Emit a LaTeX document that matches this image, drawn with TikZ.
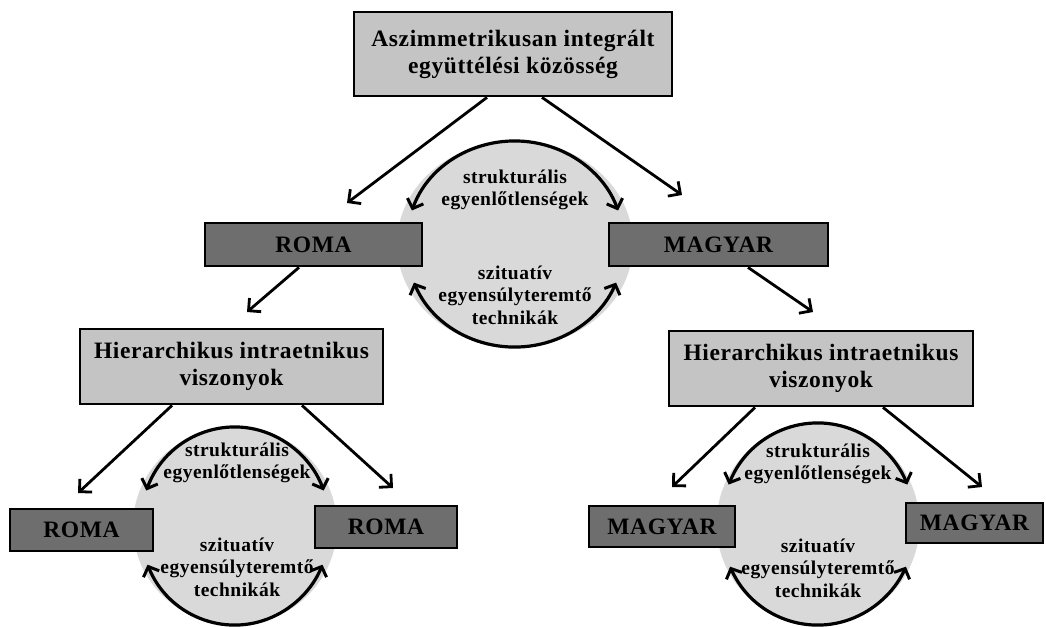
\documentclass[tikz,border=0pt]{standalone}
\usepackage{fontspec}
\setmainfont{Liberation Serif}
\usetikzlibrary{arrows.meta,shapes.geometric}
\definecolor{boxlight}{HTML}{C4C4C4}
\definecolor{boxdark}{HTML}{6E6E6E}
\definecolor{discgray}{HTML}{D9D9D9}
\newfontfamily\wideserif[LetterSpace=2.5]{Liberation Serif}
\begin{document}
\begin{tikzpicture}[x=1pt,y=-1pt,
  box/.style={draw=black, line width=2.8pt, inner sep=0pt, align=center,
    font=\wideserif\bfseries\fontsize{23.5}{27}\selectfont},
  lightbox/.style={box, fill=boxlight},
  darkbox/.style={box, fill=boxdark},
  disc/.style={ellipse, fill=discgray, inner sep=0pt},
  ctext/.style={align=center, inner sep=0pt, font=\wideserif\bfseries\fontsize{19.5}{22.5}\selectfont},
  arr/.style={line width=2.8pt, -{Straight Barb[length=9pt,width=18pt,line width=2.8pt]}},
  loopar/.style={line width=3.2pt, {Straight Barb[length=8pt,width=17pt,line width=3pt]}-{Straight Barb[length=8pt,width=17pt,line width=3pt]}}
]
\useasboundingbox (0,0) rectangle (1046,626);

% discs
\node[disc, minimum width=236, minimum height=206] (c1) at (515,244) {};
\node[disc, minimum width=204, minimum height=198] (c2) at (235,526) {};
\node[disc, minimum width=203, minimum height=202] (c3) at (818,524) {};

% boxes
\node[lightbox, minimum width=318, minimum height=84] (top) at (513,54)
  {Aszimmetrikusan integrált\\együttélési közösség};
\node[darkbox, minimum width=217, minimum height=43] (roma) at (313.5,244.5) {ROMA};
\node[darkbox, minimum width=219, minimum height=43] (magyar) at (718.5,244.5) {MAGYAR};
\node[lightbox, minimum width=303, minimum height=75] (hl) at (231.5,366.5)
  {Hierarchikus intraetnikus\\viszonyok};
\node[lightbox, minimum width=304, minimum height=75] (hr) at (821,368.5)
  {Hierarchikus intraetnikus\\viszonyok};
\node[darkbox, minimum width=143, minimum height=42] (rll) at (81.5,530) {ROMA};
\node[darkbox, minimum width=142, minimum height=42] (rlr) at (386,527) {ROMA};
\node[darkbox, minimum width=146, minimum height=41] (mrl) at (662,526.5) {MAGYAR};
\node[darkbox, minimum width=137, minimum height=40] (mrr) at (974.5,523) {MAGYAR};

% circle texts
\node[ctext] (t1a) at (515,190) {strukturális\\egyenlőtlenségek};
\node[ctext] (t1b) at (515,295) {szituatív\\egyensúlyteremtő\\technikák};
\node[ctext] (t2a) at (237,463) {strukturális\\egyenlőtlenségek};
\node[ctext] (t2b) at (237,567) {szituatív\\egyensúlyteremtő\\technikák};
\node[ctext] (t3a) at (818,464) {strukturális\\egyenlőtlenségek};
\node[ctext] (t3b) at (818,568) {szituatív\\egyensúlyteremtő\\technikák};

% arrow end coordinates
\coordinate (e1) at (347,203);
\coordinate (e2) at (682,195);
\coordinate (e3) at (247,312);
\coordinate (e4) at (813,312);
\coordinate (e5) at (78,493);
\coordinate (e6) at (393,488);
\coordinate (e7) at (672,487);
\coordinate (e8) at (982,487);

\draw[arr] ([xshift=-26]top.south) -- (e1);
\draw[arr] ([xshift=29]top.south) -- (e2);
\draw[arr] ([xshift=-14.5]roma.south) -- (e3);
\draw[arr] ([xshift=29.5]magyar.south) -- (e4);
\draw[arr] ([xshift=-59.5]hl.south) -- (e5);
\draw[arr] ([xshift=70.5]hl.south) -- (e6);
\draw[arr] ([xshift=-66]hr.south) -- (e7);
\draw[arr] ([xshift=62]hr.south) -- (e8);

% cycle arcs
\draw[loopar] ([shift={(199:109 and 103)}]c1.center) arc[start angle=199, end angle=341, x radius=109, y radius=103];
\draw[loopar] ([shift={(158:109 and 103)}]c1.center) arc[start angle=158, end angle=22, x radius=109, y radius=103];
\draw[loopar] ([shift={(201:95 and 99)}]c2.center) arc[start angle=201, end angle=339, x radius=95, y radius=99];
\draw[loopar] ([shift={(157:95 and 99)}]c2.center) arc[start angle=157, end angle=23, x radius=95, y radius=99];
\draw[loopar] ([shift={(203:97 and 101)}]c3.center) arc[start angle=203, end angle=337, x radius=97, y radius=101];
\draw[loopar] ([shift={(155:97 and 101)}]c3.center) arc[start angle=155, end angle=25, x radius=97, y radius=101];
\end{tikzpicture}
\end{document}
